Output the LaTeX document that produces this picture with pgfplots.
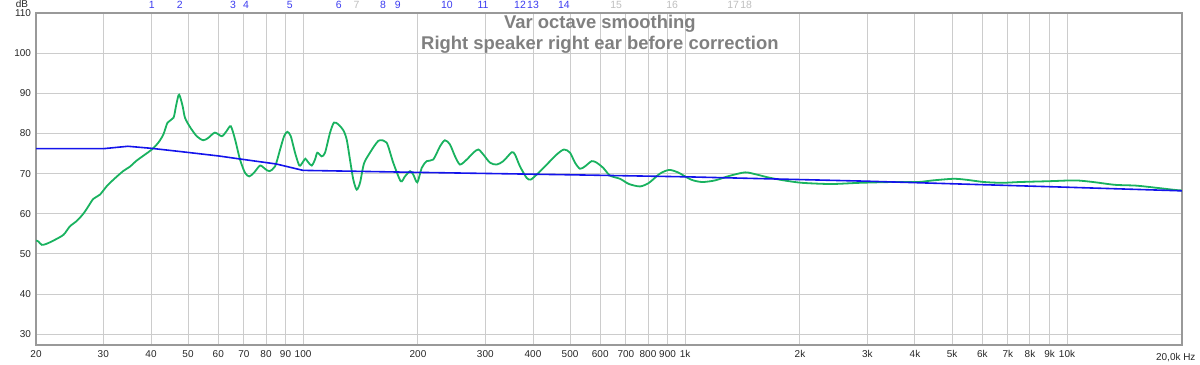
\documentclass[border=0pt]{standalone}
\usepackage{pgfplots}
\pgfplotsset{compat=1.18}
\usepackage{fontspec}
\setmainfont{Liberation Sans}
\definecolor{grn}{RGB}{25,178,95}
\definecolor{blu}{RGB}{20,20,235}
\definecolor{fnum}{RGB}{60,60,240}
\definecolor{fgray}{RGB}{190,190,190}
\definecolor{ttl}{RGB}{128,128,128}
\begin{document}
\begin{tikzpicture}
\begin{axis}[
  scale only axis, width=1146bp, height=332bp,
  xmode=log, log basis x=10,
  xmin=20, xmax=20000, ymin=27.3, ymax=110,
  clip mode=individual,
  xtick={20,30,40,50,60,70,80,90,100,200,300,400,500,600,700,800,900,1000,2000,3000,4000,5000,6000,7000,8000,9000,10000,20000},
  xticklabels={20,30,40,50,60,70,80,90,100,200,300,400,500,600,700,800,900,1k,2k,3k,4k,5k,6k,7k,8k,9k,10k,{}},
  ytick={30,40,50,60,70,80,90,100,110},
  major tick length=0pt,
  grid=major,
  major grid style={draw=black!20, line width=1bp},
  axis line style={draw=black!40, line width=1.6bp},
  /pgf/number format/assume math mode=true,
  tick label style={font=\fontsize{10}{11}\selectfont, text=black!85},
  xticklabel style={yshift=-2bp},
  yticklabel style={xshift=-1.5bp},
]
\addplot[grn, line width=1.8bp, smooth, tension=0.45] table {
20 53.3
20.28 53.1
20.7 52.25
21.3 52.5
22.2 53.3
23.6 54.75
24.5 56.8
25.6 58.25
26.6 60
27.4 61.8
28.25 63.7
29.4 64.75
30.6 66.8
31.9 68.5
33.8 70.6
35.2 71.7
36.7 73.25
38.6 74.75
40.2 76
41.8 77.7
43.1 79.75
44.2 82.7
45.8 83.9
46.5 86.8
47.2 89.5
47.6 89.3
48.4 86.8
49.1 83.9
50.6 81.6
52.7 79.3
54.8 78.3
56.5 78.9
58.8 80.2
61.3 79.3
63.1 80.6
64.7 81.8
66.4 78.5
68.4 73.5
70.5 70.2
72.3 69.3
74.4 70.2
77.2 72
79.5 71.2
81.6 70.6
84.5 71.8
87.1 76
89.2 79.3
91.0 80.4
92.9 79.3
95.3 75.2
97.8 72
99.8 72.8
101.4 73.7
103.2 72.8
105.4 72
107.5 73.5
109.0 75.2
111.9 74.3
114.2 75.2
117.7 80.2
120.5 82.7
123.7 82.25
127.5 80.8
130.1 78.5
132.7 73.5
135.4 68.5
138.2 66
141 67.7
144.4 72.5
149.7 75.2
155.9 77.7
159 78.3
165.6 77.7
172.3 72.7
180.2 68.1
184.9 69.3
190.6 70.6
194.4 69.75
199.2 67.8
204.5 71.4
210.8 73.1
219.3 73.5
228.4 76.8
235.3 78.3
242.5 77.25
250 74.3
257.6 72.25
268.3 73.5
279.2 75.2
287.7 76
296.5 74.75
308.8 72.7
321.4 72.25
334.5 73.1
351.8 75.3
358.8 74.75
369.8 71.8
385.2 68.9
394.5 68.5
409 69.75
434.6 72.25
461.4 74.75
482.2 76
500 75.2
515.3 72.7
531 71.2
547.3 71.8
569.9 73.1
587.4 72.7
611.2 71.4
636.3 69.5
676 68.7
713.7 67.4
762.6 66.8
804.9 67.7
860 70.0
908.3 70.9
958.7 70.3
1036.6 68.5
1108 67.9
1198 68.3
1304 69.4
1436 70.3
1534 69.8
1659 69.0
1816 68.3
2024 67.7
2410 67.4
2871 67.7
3504 67.9
4074 67.9
4458 68.3
5030 68.7
5408 68.5
6062 67.9
6758 67.7
7532 67.9
8972 68.1
10496 68.3
11696 67.9
13354 67.2
15160 67.0
16998 66.5
19290 65.9
20000 65.8
};
\addplot[blu, line width=1.6bp] table {
20 76.2
30 76.2
34.8 76.8
40 76.3
47.6 75.5
60 74.4
70 73.5
85 72.4
100 70.8
200 70.3
500 69.7
1000 69.2
3000 68.1
10000 66.6
20000 65.7
};
\node[font=\bfseries\fontsize{18.5}{21}\selectfont, text=ttl, align=center] at (rel axis cs:0.4921,0.936) {Var octave smoothing\\Right speaker right ear before correction};
\begin{scope}[every node/.style={font=\fontsize{10.5}{12}\selectfont, anchor=base, yshift=4.5bp}]
\node[text=black!85, xshift=-14bp, yshift=1bp, font=\fontsize{10}{11}\selectfont] at (axis cs:20,110) {dB};
\node[text=fnum] at (axis cs:40.2,110) {1};
\node[text=fnum] at (axis cs:47.6,110) {2};
\node[text=fnum] at (axis cs:65.6,110) {3};
\node[text=fnum] at (axis cs:70.9,110) {4};
\node[text=fnum] at (axis cs:92.4,110) {5};
\node[text=fnum] at (axis cs:124,110) {6};
\node[text=fgray] at (axis cs:138,110) {7};
\node[text=fnum] at (axis cs:162,110) {8};
\node[text=fnum] at (axis cs:177,110) {9};
\node[text=fnum] at (axis cs:238,110) {10};
\node[text=fnum] at (axis cs:296,110) {11};
\node[text=fnum] at (axis cs:370,110) {12};
\node[text=fnum] at (axis cs:400,110) {13};
\node[text=fnum] at (axis cs:482,110) {14};
\node[text=fgray] at (axis cs:660,110) {15};
\node[text=fgray] at (axis cs:925,110) {16};
\node[text=fgray] at (axis cs:1336,110) {17};
\node[text=fgray] at (axis cs:1445,110) {18};
\end{scope}
\node[font=\fontsize{10}{11}\selectfont, text=black!85, anchor=north east, xshift=17bp, yshift=-5bp] at (rel axis cs:1,0) {20,0k Hz};
\end{axis}
\pgfresetboundingbox
\path[use as bounding box] (-36bp,-20bp) rectangle (1164bp,345bp);
\end{tikzpicture}
\end{document}
